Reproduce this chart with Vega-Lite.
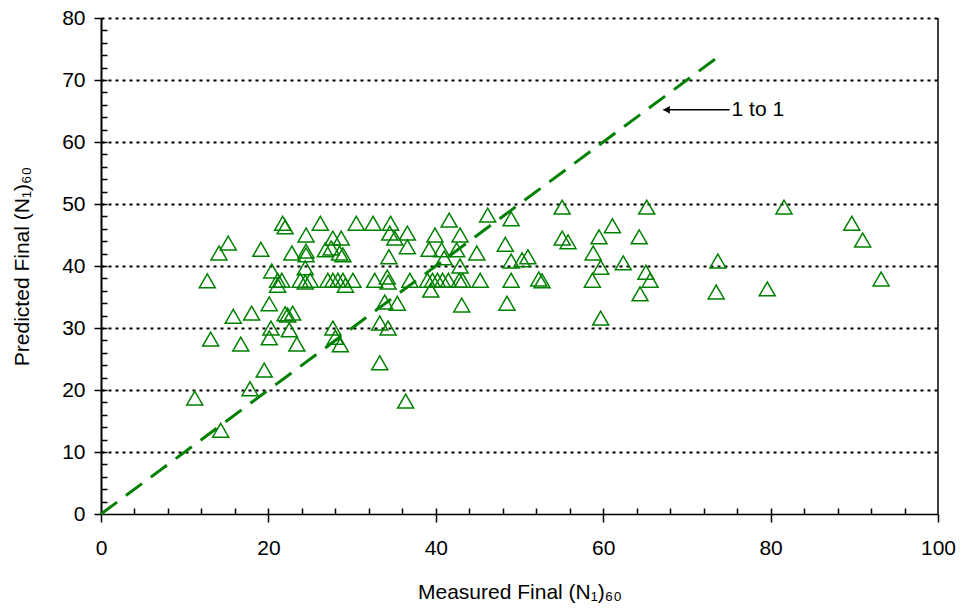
{
  "$schema": "https://vega.github.io/schema/vega-lite/v6.json",
  "width": 837,
  "height": 496,
  "autosize": "none",
  "padding": {"left": 101, "top": 18, "right": 29, "bottom": 95},
  "background": "white",
  "config": {"view": {"stroke": null}, "font": "Liberation Sans"},
  "resolve": {"axis": {"x": "independent", "y": "independent"}},
  "datasets": {
    "measurements": [
      {"measured": 11.2, "predicted": 18.7}, {"measured": 12.7, "predicted": 37.6}, {"measured": 13.1, "predicted": 28.2},
      {"measured": 14.3, "predicted": 13.5}, {"measured": 14.1, "predicted": 42.1}, {"measured": 15.2, "predicted": 43.7},
      {"measured": 15.8, "predicted": 31.9}, {"measured": 16.7, "predicted": 27.4}, {"measured": 18.0, "predicted": 32.4},
      {"measured": 17.8, "predicted": 20.2}, {"measured": 19.1, "predicted": 42.7}, {"measured": 19.5, "predicted": 23.2},
      {"measured": 20.1, "predicted": 33.9}, {"measured": 20.1, "predicted": 28.4}, {"measured": 20.3, "predicted": 30.0},
      {"measured": 20.4, "predicted": 39.2}, {"measured": 21.1, "predicted": 37.7}, {"measured": 21.6, "predicted": 37.7},
      {"measured": 21.1, "predicted": 36.9}, {"measured": 21.7, "predicted": 46.9}, {"measured": 22.0, "predicted": 46.3},
      {"measured": 22.0, "predicted": 32.3}, {"measured": 22.3, "predicted": 32.1}, {"measured": 22.9, "predicted": 32.4},
      {"measured": 22.5, "predicted": 29.7}, {"measured": 22.8, "predicted": 42.1}, {"measured": 23.4, "predicted": 27.4},
      {"measured": 24.5, "predicted": 45.0}, {"measured": 24.5, "predicted": 42.4}, {"measured": 24.5, "predicted": 41.8},
      {"measured": 24.4, "predicted": 39.7}, {"measured": 23.8, "predicted": 37.7}, {"measured": 24.4, "predicted": 37.4},
      {"measured": 25.0, "predicted": 37.7}, {"measured": 26.2, "predicted": 46.9}, {"measured": 26.8, "predicted": 42.6},
      {"measured": 27.5, "predicted": 42.9}, {"measured": 28.5, "predicted": 42.1}, {"measured": 28.9, "predicted": 41.8},
      {"measured": 27.7, "predicted": 44.5}, {"measured": 28.7, "predicted": 44.5}, {"measured": 27.1, "predicted": 37.7},
      {"measured": 27.7, "predicted": 37.7}, {"measured": 28.3, "predicted": 37.7}, {"measured": 28.9, "predicted": 37.7},
      {"measured": 30.1, "predicted": 37.7}, {"measured": 29.2, "predicted": 36.9}, {"measured": 27.7, "predicted": 30.0},
      {"measured": 28.0, "predicted": 28.5}, {"measured": 28.6, "predicted": 27.3}, {"measured": 30.5, "predicted": 46.9},
      {"measured": 32.5, "predicted": 46.9}, {"measured": 34.6, "predicted": 46.9}, {"measured": 34.5, "predicted": 45.3},
      {"measured": 35.1, "predicted": 44.5}, {"measured": 36.6, "predicted": 45.3}, {"measured": 36.6, "predicted": 43.1},
      {"measured": 34.4, "predicted": 41.5}, {"measured": 32.7, "predicted": 37.7}, {"measured": 34.2, "predicted": 38.2},
      {"measured": 34.3, "predicted": 37.4}, {"measured": 36.9, "predicted": 37.7}, {"measured": 39.0, "predicted": 37.7},
      {"measured": 39.6, "predicted": 37.7}, {"measured": 40.2, "predicted": 37.7}, {"measured": 40.8, "predicted": 37.7},
      {"measured": 41.5, "predicted": 37.7}, {"measured": 42.8, "predicted": 37.7}, {"measured": 43.2, "predicted": 37.7},
      {"measured": 45.3, "predicted": 37.7}, {"measured": 39.4, "predicted": 36.1}, {"measured": 33.9, "predicted": 34.2},
      {"measured": 35.4, "predicted": 34.0}, {"measured": 43.1, "predicted": 33.7}, {"measured": 33.3, "predicted": 30.8},
      {"measured": 34.3, "predicted": 30.0}, {"measured": 33.3, "predicted": 24.4}, {"measured": 36.4, "predicted": 18.2},
      {"measured": 39.9, "predicted": 45.0}, {"measured": 42.9, "predicted": 45.0}, {"measured": 39.2, "predicted": 42.7},
      {"measured": 40.7, "predicted": 42.6}, {"measured": 42.5, "predicted": 42.6}, {"measured": 41.0, "predicted": 41.3},
      {"measured": 44.9, "predicted": 42.1}, {"measured": 42.9, "predicted": 40.0}, {"measured": 41.6, "predicted": 47.4},
      {"measured": 46.2, "predicted": 48.2}, {"measured": 49.0, "predicted": 47.6}, {"measured": 48.3, "predicted": 43.5},
      {"measured": 49.0, "predicted": 40.8}, {"measured": 50.3, "predicted": 41.0}, {"measured": 51.0, "predicted": 41.5},
      {"measured": 49.0, "predicted": 37.7}, {"measured": 52.3, "predicted": 37.9}, {"measured": 52.7, "predicted": 37.6},
      {"measured": 48.5, "predicted": 34.0}, {"measured": 55.1, "predicted": 49.5}, {"measured": 55.1, "predicted": 44.5},
      {"measured": 55.8, "predicted": 43.9}, {"measured": 58.8, "predicted": 42.1}, {"measured": 59.5, "predicted": 44.7},
      {"measured": 59.7, "predicted": 39.8}, {"measured": 58.7, "predicted": 37.7}, {"measured": 59.7, "predicted": 31.6},
      {"measured": 61.1, "predicted": 46.5}, {"measured": 62.4, "predicted": 40.5}, {"measured": 64.3, "predicted": 44.7},
      {"measured": 64.4, "predicted": 35.5}, {"measured": 65.1, "predicted": 39.0}, {"measured": 65.6, "predicted": 37.7},
      {"measured": 65.2, "predicted": 49.5}, {"measured": 73.7, "predicted": 40.8}, {"measured": 73.5, "predicted": 35.8},
      {"measured": 79.6, "predicted": 36.3}, {"measured": 81.6, "predicted": 49.5}, {"measured": 89.7, "predicted": 46.9},
      {"measured": 91.0, "predicted": 44.2}, {"measured": 93.2, "predicted": 37.9}
    ],
    "oneToOne": [
      {"measured": 0, "predicted": 0},
      {"measured": 74, "predicted": 74}
    ],
    "label": [
      {"tip": 67.2, "tail": 75.1, "level": 65.2, "text": "1 to 1"}
    ]
  },
  "layer": [
    {
      "data": {"name": "measurements"},
      "mark": {"type": "point", "shape": "triangle-up", "filled": false, "stroke": "#008000", "strokeWidth": 1.5, "size": 256, "opacity": 1},
      "encoding": {
        "x": {
          "field": "measured", "type": "quantitative",
          "scale": {"domain": [0, 100], "nice": false, "zero": false},
          "axis": {
            "orient": "bottom",
            "values": [0, 20, 40, 60, 80, 100],
            "format": "d",
            "tickSize": 8, "tickColor": "black", "tickWidth": 1.5,
            "domainColor": "black", "domainWidth": 1.5,
            "grid": false,
            "labelFont": "Liberation Sans", "labelFontSize": 21, "labelColor": "black",
            "labelPadding": 15, "labelFlush": false, "labelOverlap": false,
            "title": "Measured Final (N₁)₆₀",
            "titleFont": "Liberation Sans", "titleFontSize": 21, "titleFontWeight": "normal", "titleColor": "black",
            "titlePadding": 23
          }
        },
        "y": {
          "field": "predicted", "type": "quantitative",
          "scale": {"domain": [0, 80], "nice": false, "zero": false},
          "axis": {
            "orient": "left",
            "values": [0, 10, 20, 30, 40, 50, 60, 70, 80],
            "format": "d",
            "tickSize": 7, "tickColor": "black", "tickWidth": 1.5,
            "domainColor": "black", "domainWidth": 2,
            "grid": true, "gridColor": "black", "gridWidth": 2, "gridDash": [3, 4],
            "gridOpacity": {"condition": {"test": "datum.value > 0", "value": 1}, "value": 0},
            "labelFont": "Liberation Sans", "labelFontSize": 21, "labelColor": "black",
            "labelPadding": 9, "labelFlush": false, "labelOverlap": false,
            "title": "Predicted Final (N₁)₆₀",
            "titleFont": "Liberation Sans", "titleFontSize": 21, "titleFontWeight": "normal", "titleColor": "black",
            "titlePadding": 29
          }
        }
      }
    },
    {
      "data": {"name": "oneToOne"},
      "mark": {"type": "line", "color": "#008000", "strokeWidth": 3, "strokeDash": [20, 11]},
      "encoding": {
        "x": {
          "field": "measured", "type": "quantitative",
          "axis": {
            "orient": "bottom", "offset": -6,
            "values": [4, 8, 12, 16, 20, 24, 28, 32, 36, 40, 44, 48, 52, 56, 60, 64, 68, 72, 76, 80, 84, 88, 92, 96],
            "tickCount": 200,
            "tickSize": 6, "tickColor": "black", "tickWidth": 1.5,
            "domain": false, "grid": false, "labels": false, "title": null
          }
        },
        "y": {
          "field": "predicted", "type": "quantitative",
          "axis": {
            "orient": "left", "offset": -6,
            "values": [2, 4, 6, 8, 10, 12, 14, 16, 18, 20, 22, 24, 26, 28, 30, 32, 34, 36, 38, 40, 42, 44, 46, 48, 50, 52, 54, 56, 58, 60, 62, 64, 66, 68, 70, 72, 74, 76, 78],
            "tickCount": 200,
            "tickSize": 6, "tickColor": "black", "tickWidth": 1.5,
            "domain": false, "grid": false, "labels": false, "title": null
          }
        }
      }
    },
    {
      "data": {"values": [{"edge": 100, "bottom": 0, "top": 80}]},
      "mark": {"type": "rule", "color": "black", "strokeWidth": 1.5},
      "encoding": {
        "x": {"field": "edge", "type": "quantitative", "axis": null},
        "y": {"field": "bottom", "type": "quantitative", "axis": null},
        "y2": {"field": "top"}
      }
    },
    {
      "data": {"name": "label"},
      "mark": {"type": "rule", "color": "black", "strokeWidth": 1.5},
      "encoding": {
        "x": {"field": "tip", "type": "quantitative", "axis": null},
        "x2": {"field": "tail"},
        "y": {"field": "level", "type": "quantitative", "axis": null}
      }
    },
    {
      "data": {"name": "label"},
      "mark": {"type": "point", "shape": "triangle-left", "filled": true, "color": "black", "size": 60, "opacity": 1, "xOffset": 3},
      "encoding": {
        "x": {"field": "tip", "type": "quantitative", "axis": null},
        "y": {"field": "level", "type": "quantitative", "axis": null}
      }
    },
    {
      "data": {"name": "label"},
      "mark": {"type": "text", "align": "left", "baseline": "middle", "font": "Liberation Sans", "fontSize": 21, "color": "black", "dx": 2},
      "encoding": {
        "x": {"field": "tail", "type": "quantitative", "axis": null},
        "y": {"field": "level", "type": "quantitative", "axis": null},
        "text": {"field": "text"}
      }
    }
  ]
}
